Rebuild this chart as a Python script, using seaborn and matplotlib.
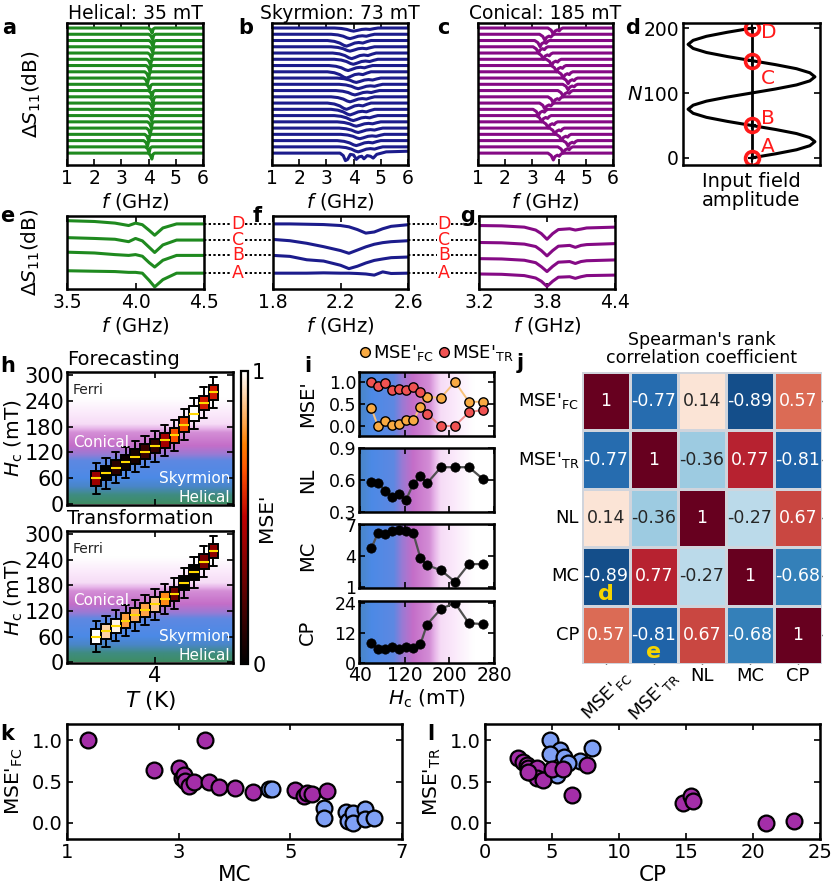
import numpy as np
import pandas as pd
import matplotlib
matplotlib.use("Agg")
import matplotlib.pyplot as plt
import seaborn as sns
from matplotlib.colors import LinearSegmentedColormap, Normalize
from matplotlib.cm import ScalarMappable
from matplotlib.lines import Line2D
from matplotlib.transforms import blended_transform_factory

# ======================= data =======================
# (a)-(c): dip centre (GHz) and depth of each stacked trace, top to bottom
dip_a = [4.13, 4.15, 4.16, 4.15, 4.11, 4.07, 4.05, 4.0, 3.96, 4.04, 4.13, 4.16, 4.15,
         4.13, 4.11, 4.1, 4.06, 4.0, 3.96, 4.02, 4.12]
depth_a = [0.8, 0.9, 0.95, 0.9, 0.85, 0.9, 0.95, 1.0, 0.9, 0.85, 0.9, 0.95, 0.9,
           0.9, 0.85, 0.9, 0.95, 1.0, 0.9, 0.9, 0.95]
dip_b = [4.0, 3.87, 3.74, 3.87, 3.93, 3.99, 3.8, 3.74, 4.1, 4.17, 4.05, 3.87, 3.74,
         3.87, 3.99, 4.1, 4.17, 4.23, 4.1, 4.17]
depth_b = [0.5, 0.7, 0.9, 0.7, 0.9, 0.8, 0.8, 1.0, 0.7, 0.7, 0.7, 0.8, 1.0,
           0.9, 0.8, 0.7, 0.7, 0.7, 0.8, 0.8]
b_last_f = [1.0, 3.5, 3.62, 3.7, 3.78, 3.88, 4.0, 4.1, 4.2, 4.3, 4.38, 4.5, 4.62, 4.72, 4.85, 5.2, 6.0]
b_last_dy = [0.0, 0.0, -0.4, -1.2, -1.0, -0.2, -0.3, -1.0, -0.6, -0.5, -0.9, -0.4, -0.5, -0.8, -0.2, 0.2, 0.3]
dip_c = [3.79, 3.48, 3.3, 3.24, 3.42, 3.73, 3.91, 4.16, 4.34, 4.34, 4.16, 3.79, 3.48,
         3.24, 3.36, 3.6, 3.85, 4.1, 4.34, 4.16, 3.79]
depth_c = [1.0, 1.0, 1.0, 1.0, 1.0, 1.0, 1.0, 1.0, 0.9, 0.9, 1.0, 1.0, 1.0,
           1.0, 1.0, 1.0, 1.0, 1.0, 0.9, 1.0, 1.1]
# dip line-shapes (offset from centre, relative depth)
shape_a_df = [-9.0, -0.14, -0.06, 0.0, 0.04, 0.1, 9.0]
shape_a_dy = [0.0, 0.0, -0.3, -1.0, -0.2, 0.0, 0.0]
shape_b_df = [-9.0, -0.7, -0.45, -0.25, -0.1, 0.0, 0.12, 0.3, 0.45, 0.6, 0.75, 0.9, 9.0]
shape_b_dy = [0.0, 0.0, -0.15, -0.45, -0.85, -1.0, -0.8, -0.45, -0.35, -0.45, -0.2, 0.0, 0.0]
shape_c_df = [-9.0, -0.2, -0.08, 0.0, 0.06, 0.15, 0.22, 0.28, 0.35, 9.0]
shape_c_dy = [0.0, 0.0, -0.35, -1.0, -0.5, -0.3, -0.45, -0.15, 0.0, 0.0]

# (d) input field
d_N = [0, 6.25, 12.5, 18.75, 25, 31.25, 37.5, 43.75, 50, 56.25, 62.5, 68.75, 75, 81.25, 87.5, 93.75,
       100, 106.25, 112.5, 118.75, 125, 131.25, 137.5, 143.75, 150, 156.25, 162.5, 168.75, 175,
       181.25, 187.5, 193.75, 200]
d_amp = [0, 0.38, 0.71, 0.92, 1, 0.92, 0.71, 0.38, 0, -0.38, -0.71, -0.92, -1, -0.92, -0.71, -0.38,
         0, 0.38, 0.71, 0.92, 1, 0.92, 0.71, 0.38, 0, -0.38, -0.71, -0.92, -1, -0.92, -0.71, -0.38, 0]
d_mark_N = [0, 50, 150, 200]
d_mark_lab = ["A", "B", "C", "D"]
d_lab_N = [17, 61, 123, 193]

# (e)-(g) selected traces A-D
e_f = [3.5, 3.7, 3.85, 3.95, 4.0, 4.05, 4.1, 4.14, 4.2, 4.3, 4.5]
e_tr = {"D": [0.2, 0.15, 0.05, -0.1, 0.05, -0.05, -0.4, -0.7, -0.25, 0.0, 0.0],
        "C": [0.15, 0.1, 0.05, -0.1, 0.1, -0.05, -0.45, -0.77, -0.3, 0.0, 0.0],
        "B": [0.2, 0.15, 0.05, 0.0, 0.05, -0.05, -0.45, -0.72, -0.3, 0.0, 0.0],
        "A": [0.15, 0.12, 0.1, 0.05, 0.05, 0.0, -0.45, -0.85, -0.4, 0.0, 0.0]}
f_f = [1.8, 1.9, 2.0, 2.1, 2.2, 2.25, 2.3, 2.35, 2.4, 2.45, 2.5, 2.6]
f_tr = {"D": [0.0, 0.0, -0.02, -0.04, -0.1, -0.18, -0.35, -0.57, -0.5, -0.3, -0.15, -0.05],
        "C": [0.04, -0.04, -0.2, -0.41, -0.65, -0.82, -0.62, -0.42, -0.26, -0.16, -0.1, -0.04],
        "B": [0.0, -0.06, -0.27, -0.35, -0.61, -0.82, -0.67, -0.47, -0.31, -0.22, -0.14, -0.1],
        "A": [0.0, 0.0, 0.0, 0.02, 0.0, 0.0, -0.02, -0.05, -0.12, 0.08, -0.02, 0.0]}
g_f = [3.2, 3.4, 3.6, 3.7, 3.75, 3.8, 3.85, 3.9, 4.0, 4.05, 4.1, 4.15, 4.4]
g_tr = {"D": [-0.1, -0.12, -0.2, -0.38, -0.6, -0.95, -0.6, -0.35, -0.3, -0.38, -0.32, -0.25, -0.2],
        "C": [-0.15, -0.17, -0.25, -0.4, -0.65, -0.98, -0.65, -0.38, -0.33, -0.45, -0.33, -0.28, -0.22],
        "B": [-0.2, -0.22, -0.3, -0.45, -0.7, -1.0, -0.68, -0.42, -0.38, -0.5, -0.38, -0.33, -0.28],
        "A": [-0.05, -0.07, -0.15, -0.3, -0.5, -0.82, -0.5, -0.25, -0.22, -0.32, -0.22, -0.15, -0.12]}
trace_level = {"A": 0.0, "B": 1.1, "C": 2.05, "D": 3.05}

# (h)/(i) per field
Hc = [60, 72, 85, 97, 110, 122, 135, 148, 160, 185, 210, 235, 260]
T_K = [3.4, 3.5, 3.6, 3.7, 3.8, 3.9, 4.0, 4.1, 4.2, 4.3, 4.4, 4.5, 4.6]
box_half = 17
whisker_half = 36
mse_fc = [0.41, 0.0, 0.11, 0.03, 0.06, 0.15, 0.13, 0.43, 0.66, 0.64, 1.0, 0.55, 0.55]
mse_tr = [1.0, 0.91, 0.98, 0.81, 0.84, 0.82, 0.89, 0.77, 0.28, 0.0, 0.01, 0.31, 0.37]
nl = [0.58, 0.57, 0.50, 0.44, 0.47, 0.41, 0.56, 0.64, 0.57, 0.72, 0.72, 0.72, 0.61]
mc = [4.7, 6.2, 6.1, 6.4, 6.5, 6.4, 6.2, 3.8, 3.1, 2.6, 1.5, 3.2, 3.2]
cp = [8.2, 5.5, 5.8, 6.6, 5.5, 6.4, 5.9, 7.5, 15.4, 21.7, 24.0, 15.9, 15.6]

# magnetic phase background (field in mT -> colour)
phase_H = [0, 20, 40, 60, 100, 115, 135, 165, 175, 185, 210, 245, 310]
phase_col = ["#3e8c64", "#3f8c80", "#4a86c8", "#4c8ae6", "#5e88e2", "#9a7ad4", "#c46ec8",
             "#d48ed6", "#e8b8ea", "#f6dcf6", "#fbeafb", "#ffffff", "#ffffff"]

# (j) Spearman correlation
corr_names = ["MSE'$_{\\rm FC}$", "MSE'$_{\\rm TR}$", "NL", "MC", "CP"]
corr = [[1, -0.77, 0.14, -0.89, 0.57],
        [-0.77, 1, -0.36, 0.77, -0.81],
        [0.14, -0.36, 1, -0.27, 0.67],
        [-0.89, 0.77, -0.27, 1, -0.68],
        [0.57, -0.81, 0.67, -0.68, 1]]

# (k)/(l) scatter
k_pur_mc = [1.37, 3.48, 2.55, 3.01, 3.06, 3.09, 3.12, 3.18, 3.27, 3.55, 3.72, 4.01, 4.34, 5.09, 5.24, 5.30, 5.39, 5.66]
k_pur_fc = [1.0, 1.0, 0.64, 0.67, 0.54, 0.58, 0.51, 0.44, 0.49, 0.49, 0.43, 0.42, 0.37, 0.40, 0.32, 0.36, 0.35, 0.38]
k_blu_mc = [4.61, 4.67, 5.60, 5.60, 5.99, 6.04, 6.13, 6.13, 6.34, 6.34, 6.49]
k_blu_fc = [0.41, 0.41, 0.18, 0.06, 0.13, 0.02, 0.12, 0.0, 0.17, 0.04, 0.06]
l_pur_cp = [2.49, 2.86, 3.11, 3.23, 3.48, 3.86, 3.86, 4.35, 4.98, 5.85, 7.59, 6.47, 14.8, 15.4, 15.5, 20.97, 23.06, 3.2]
l_pur_tr = [0.79, 0.74, 0.70, 0.66, 0.60, 0.66, 0.54, 0.52, 0.65, 0.65, 0.70, 0.33, 0.24, 0.32, 0.26, 0.0, 0.02, 0.62]
l_blu_cp = [4.85, 5.6, 4.85, 5.9, 7.09, 7.99, 5.35, 6.2]
l_blu_tr = [1.0, 0.88, 0.83, 0.80, 0.75, 0.91, 0.58, 0.72]

# ======================= style =======================
sns.set_theme(style="ticks")
plt.rcParams.update({
    "font.family": ["DejaVu Sans"],
    "mathtext.fontset": "dejavusans",
    "font.size": 13,
    "axes.linewidth": 1.8,
    "axes.edgecolor": "black",
    "axes.labelcolor": "black",
    "text.color": "black",
    "xtick.color": "black", "ytick.color": "black",
    "xtick.direction": "in", "ytick.direction": "in",
    "xtick.top": True, "ytick.right": True,
    "xtick.major.size": 4, "ytick.major.size": 4,
    "xtick.major.width": 1.2, "ytick.major.width": 1.2,
    "xtick.labelsize": 13.5, "ytick.labelsize": 13.5,
    "axes.labelsize": 14,
    "xtick.major.pad": 3, "ytick.major.pad": 3,
    "axes.labelpad": 2,
})

W, H = 831, 886
fig = plt.figure(figsize=(W / 100, H / 100), dpi=100)


def add_ax(x0, x1, y0, y1):
    return fig.add_axes([x0 / W, 1 - y1 / H, (x1 - x0) / W, (y1 - y0) / H])


def ftxt(x, y, s, **kw):
    fig.text(x / W, 1 - y / H, s, **kw)


def letter(x, y, s):
    ftxt(x, y, s, fontsize=15, fontweight="bold", ha="left", va="center")


GREEN, NAVY, PURPLE = "#1f8a1f", "#1c1c8c", "#850a85"
YLAB_S = "$\\Delta S_{11}$(dB)"
XLAB_F = "$f$ (GHz)"


def stack_frame(centers, depths, sdf, sdy, n):
    rows = []
    for k, (c, d) in enumerate(zip(centers, depths)):
        for dx, dy in zip(sdf, sdy):
            rows.append((k, c + dx, (n - 1 - k) + d * dy))
    return pd.DataFrame(rows, columns=["trace", "f", "y"])


# ---------------- (a)-(c) ----------------
n_tr = 21
specs = [((67, 203), dip_a, depth_a, shape_a_df, shape_a_dy, GREEN, "Helical: 35 mT"),
         ((272, 408), dip_b, depth_b, shape_b_df, shape_b_dy, NAVY, "Skyrmion: 73 mT"),
         ((478, 613), dip_c, depth_c, shape_c_df, shape_c_dy, PURPLE, "Conical: 185 mT")]
for (x0, x1), cen, dep, sdf, sdy, col, title in specs:
    ax = add_ax(x0, x1, 23, 165)
    df = stack_frame(cen, dep, sdf, sdy, n_tr)
    sns.lineplot(data=df, x="f", y="y", units="trace", estimator=None, sort=False,
                 color=col, lw=2.2, ax=ax)
    if col == NAVY:
        sns.lineplot(x=b_last_f, y=b_last_dy, sort=False, estimator=None,
                     color=col, lw=2.2, ax=ax)
    ax.set_xlim(1, 6)
    ax.set_ylim(-1.9, 20.8)
    ax.set_xticks([1, 2, 3, 4, 5, 6])
    ax.set_yticks([])
    ax.set_xlabel(XLAB_F)
    ax.set_ylabel(YLAB_S if col == GREEN else "", fontsize=14.5)
    ax.set_title(title, fontsize=13.5, pad=3)
    ax.yaxis.set_label_coords(-0.18, 0.5)

# ---------------- (d) ----------------
axd = add_ax(683, 820, 23, 165)
sns.lineplot(x=d_amp, y=d_N, sort=False, estimator=None, color="black", lw=2.2, ax=axd)
axd.plot([0, 0], [0, 200], color="black", lw=2.0)
axd.plot([0] * 4, d_mark_N, "o", ms=10, mfc="none", mec="#ff1a1a", mew=2.6)
axd.plot([0] * 4, d_mark_N, "+", ms=6, color="black", mew=1.5)
for nn, lab in zip(d_lab_N, d_mark_lab):
    axd.text(0.15, nn, lab, color="#ff1a1a", fontsize=14.5, ha="left", va="center")
axd.set_xlim(-1.08, 1.08)
axd.set_ylim(-11, 208)
axd.set_xticks([0])
axd.set_xticklabels([""])
axd.set_yticks([0, 100, 200])
axd.set_xlabel("Input field\namplitude", linespacing=1.0, fontsize=14)
axd.set_ylabel("$N$", rotation=0, va="center", ha="right", fontsize=14)
axd.yaxis.set_label_coords(-0.29, 0.5)

# ---------------- (e)-(g) ----------------
eg = [((67, 204), e_f, e_tr, GREEN, [3.5, 4.0, 4.5], (3.5, 4.5)),
      ((273, 408), f_f, f_tr, NAVY, [1.8, 2.2, 2.6], (1.8, 2.6)),
      ((479, 615), g_f, g_tr, PURPLE, [3.2, 3.8, 4.4], (3.2, 4.4))]
eg_axes = []
for (x0, x1), fx, tr, col, ticks, lim in eg:
    ax = add_ax(x0, x1, 216, 289)
    for lab in ["A", "B", "C", "D"]:
        sns.lineplot(x=fx, y=[trace_level[lab] + v for v in tr[lab]], sort=False,
                     estimator=None, color=col, lw=2.2, ax=ax)
    ax.set_xlim(*lim)
    ax.set_ylim(-0.98, 3.54)
    ax.set_xticks(ticks)
    ax.set_xticklabels([f"{t:.1f}" for t in ticks])
    ax.set_yticks([])
    ax.set_xlabel(XLAB_F)
    ax.set_ylabel(YLAB_S if col == GREEN else "", fontsize=14.5)
    ax.yaxis.set_label_coords(-0.18, 0.5)
    eg_axes.append(ax)

for ax_ref, (xa, xb, xl) in zip([eg_axes[0], eg_axes[1]], [(204, 273, 238), (408, 479, 444)]):
    tr_bl = blended_transform_factory(fig.transFigure, ax_ref.transData)
    for lab in ["A", "B", "C", "D"]:
        yv = trace_level[lab]
        fig.add_artist(Line2D([xa / W, (xl - 7) / W], [yv, yv], transform=tr_bl,
                              color="black", lw=1.4, ls=(0, (1.2, 1.2))))
        fig.add_artist(Line2D([(xl + 7) / W, xb / W], [yv, yv], transform=tr_bl,
                              color="black", lw=1.4, ls=(0, (1.2, 1.2))))
        fig.text(xl / W, yv, lab, transform=tr_bl, color="#ff1a1a", fontsize=12.5,
                 ha="center", va="center")

# ---------------- (h) ----------------
phase_cmap = LinearSegmentedColormap.from_list(
    "phase", [(h / phase_H[-1], c) for h, c in zip(phase_H, phase_col)])
heat = plt.get_cmap("gist_heat")
grad = np.linspace(0, phase_H[-1], 400)

for (y0, y1), vals, ttl in [((372, 505), mse_fc, "Forecasting"),
                            ((531, 663), mse_tr, "Transformation")]:
    ax = add_ax(67, 233, y0, y1)
    ax.imshow(grad[:, None], extent=[3.1, 4.8, 0, phase_H[-1]], origin="lower",
              aspect="auto", cmap=phase_cmap, norm=Normalize(0, phase_H[-1]), zorder=0)
    stats = [dict(med=m, q1=m - box_half, q3=m + box_half,
                  whislo=m - whisker_half, whishi=m + whisker_half) for m in Hc]
    bp = ax.bxp(stats, positions=T_K, widths=0.1, patch_artist=True, showfliers=False,
                manage_ticks=False, capwidths=0.075,
                boxprops=dict(edgecolor="black", lw=1.4),
                whiskerprops=dict(color="black", lw=1.4),
                capprops=dict(color="black", lw=1.4),
                medianprops=dict(color="#ffd800", lw=1.5))
    for patch, v in zip(bp["boxes"], vals):
        patch.set_facecolor(heat(v))
    ax.set_xlim(3.1, 4.8)
    ax.set_ylim(-2, 307)
    ax.set_yticks([0, 60, 120, 180, 240, 300])
    ax.set_xticks([4])
    ax.tick_params(labelsize=15, pad=2)
    ax.set_ylabel("$H_{\\rm c}$ (mT)", fontsize=14.5)
    ax.yaxis.set_label_coords(-0.255, 0.5)
    ax.text(3.16, 265, "Ferri", fontsize=10, color="#222222", va="center")
    ax.text(3.16, 144, "Conical", fontsize=11, color="white", va="center")
    ax.text(4.77, 60, "Skyrmion", fontsize=11, color="white", va="center", ha="right")
    ax.text(4.77, 16, "Helical", fontsize=11, color="white", va="center", ha="right")
    ax.text(0.0, 1.02, ttl, transform=ax.transAxes, fontsize=14, ha="left", va="bottom")
    if vals is mse_fc:
        ax.set_xticklabels([""])
    else:
        ax.set_xticklabels(["4"])
        ax.set_xlabel("$T$ (K)", fontsize=15.5)

cax = add_ax(241, 248, 371, 664)
cb = fig.colorbar(ScalarMappable(norm=Normalize(0, 1), cmap=heat), cax=cax)
cb.set_ticks([0, 1])
cb.set_ticklabels(["0", "1"])
cax.tick_params(length=0, labelsize=15, pad=3)
cb.outline.set_linewidth(1.6)
cb.set_label("MSE'", fontsize=14.5, labelpad=-6)

# ---------------- (i) ----------------
i_rows = [((372, 436), "MSE'", (-0.22, 1.22), [0.0, 0.5, 1.0], ["0.0", "0.5", "1.0"]),
          ((448, 512), "NL", (0.3, 0.9), [0.3, 0.6, 0.9], ["0.3", "0.6", "0.9"]),
          ((524, 588), "MC", (0.9, 7.05), [1, 4, 7], ["1", "4", "7"]),
          ((601, 663), "CP", (0, 24.8), [0, 12, 24], ["0", "12", "24"])]
i_data = {"NL": nl, "MC": mc, "CP": cp}
gradx = np.linspace(38, 280, 400)
for idx, ((y0, y1), name, ylim, yt, ytl) in enumerate(i_rows):
    ax = add_ax(359, 494, y0, y1)
    ax.imshow(gradx[None, :], extent=[38, 280, ylim[0], ylim[1]], origin="lower",
              aspect="auto", cmap=phase_cmap, norm=Normalize(0, phase_H[-1]), zorder=0)
    if name == "MSE'":
        ax.plot(Hc, mse_fc, color="#f8c27a", lw=1.4, zorder=2)
        ax.plot(Hc, mse_tr, color="#f08a8a", lw=1.4, zorder=2)
        sns.scatterplot(x=Hc, y=mse_fc, color="#f8aa42", edgecolor="black", linewidth=1.0,
                        s=45, zorder=3, ax=ax)
        sns.scatterplot(x=Hc, y=mse_tr, color="#f05252", edgecolor="black", linewidth=1.0,
                        s=45, zorder=3, ax=ax)
        hdl = [Line2D([], [], marker="o", ls="", ms=7, mfc="#f8aa42", mec="black", mew=1.0),
               Line2D([], [], marker="o", ls="", ms=7, mfc="#f05252", mec="black", mew=1.0)]
        ax.legend(hdl, ["MSE'$_{\\rm FC}$", "MSE'$_{\\rm TR}$"], loc="lower left",
                  bbox_to_anchor=(-0.1, 0.97), ncol=2, frameon=False, handletextpad=-0.1,
                  columnspacing=0.1, handlelength=1.0, borderpad=0.1, fontsize=13)
    else:
        yv = i_data[name]
        ax.plot(Hc, yv, color="#505050", lw=1.6, zorder=2)
        sns.scatterplot(x=Hc, y=yv, color="black", edgecolor="black", linewidth=0.5,
                        s=45, zorder=3, ax=ax)
    ax.set_xlim(38, 280)
    ax.set_ylim(*ylim)
    ax.set_yticks(yt)
    ax.set_yticklabels(ytl)
    ax.set_xticks([40, 120, 200, 280])
    ax.tick_params(labelsize=12.5, pad=2)
    if idx == 3:
        ax.set_xticklabels(["40", "120", "200", "280"])
        ax.set_xlabel("$H_{\\rm c}$ (mT)", fontsize=14.5)
        ax.tick_params(axis="x", labelsize=13.5)
    else:
        ax.set_xticklabels([])
    ax.set_ylabel(name, fontsize=14)
    ax.yaxis.set_label_coords(-0.31, 0.5)

# ---------------- (j) ----------------
axj = add_ax(582, 822, 372, 664)
cdf = pd.DataFrame(corr, index=corr_names, columns=corr_names)
sns.heatmap(cdf, ax=axj, cmap="RdBu_r", vmin=-1, vmax=1, annot=True, fmt="g", cbar=False,
            linewidths=0.8, linecolor="#d0d4dc", annot_kws={"size": 12.5})
axj.tick_params(direction="in", top=True, right=True, bottom=True, left=True, length=3,
                width=1.0, labelsize=13, pad=2)
axj.set_yticklabels(corr_names, rotation=0)
xl = axj.set_xticklabels(corr_names)
for t, rot in zip(xl, [45, 45, 0, 0, 0]):
    t.set_rotation(rot)
    t.set_ha("center")
    t.set_va("top")
axj.set_xlabel("")
axj.set_ylabel("")
for s in axj.spines.values():
    s.set_visible(False)
axj.text(0.5, 3.8, "d", color="#f5d400", fontsize=16, fontweight="bold", ha="center", va="center")
axj.text(1.5, 4.8, "e", color="#f5d400", fontsize=16, fontweight="bold", ha="center", va="center")
ftxt(702, 349, "Spearman's rank\ncorrelation coefficient", fontsize=12.5, ha="center",
     va="center", linespacing=1.05)

# ---------------- (k), (l) ----------------
PUR, BLU = "#a42ea8", "#7fa0f5"
axk = add_ax(67, 402, 724, 839)
sns.scatterplot(x=k_pur_mc, y=k_pur_fc, color=PUR, edgecolor="black", linewidth=1.6, s=130, ax=axk, zorder=3)
sns.scatterplot(x=k_blu_mc, y=k_blu_fc, color=BLU, edgecolor="black", linewidth=1.6, s=130, ax=axk, zorder=3)
axk.set_xlim(1, 7)
axk.set_xticks([1, 3, 5, 7])
axk.set_xlabel("MC")
axk.set_ylabel("MSE'$_{\\rm FC}$")

axl = add_ax(485, 820, 724, 839)
sns.scatterplot(x=l_blu_cp, y=l_blu_tr, color=BLU, edgecolor="black", linewidth=1.6, s=130, ax=axl, zorder=3)
sns.scatterplot(x=l_pur_cp, y=l_pur_tr, color=PUR, edgecolor="black", linewidth=1.6, s=130, ax=axl, zorder=3)
axl.set_xlim(0, 25)
axl.set_xticks([0, 5, 10, 15, 20, 25])
axl.set_xlabel("CP")
axl.set_ylabel("MSE'$_{\\rm TR}$")
for ax in (axk, axl):
    ax.set_ylim(-0.2, 1.2)
    ax.set_yticks([0.0, 0.5, 1.0])
    ax.set_yticklabels(["0.0", "0.5", "1.0"])
    ax.tick_params(labelsize=14)
    ax.xaxis.label.set_size(15.5)
    ax.yaxis.label.set_size(14.5)
axk.yaxis.set_label_coords(-0.125, 0.5)
axl.yaxis.set_label_coords(-0.125, 0.5)

# ---------------- panel letters ----------------
for (x, y, s) in [(2, 28, "a"), (238, 28, "b"), (437, 28, "c"), (625, 28, "d"),
                  (0, 216, "e"), (253, 216, "f"), (460, 216, "g"),
                  (0, 366, "h"), (304, 366, "i"), (517, 363, "j"),
                  (0, 734, "k"), (427, 734, "l")]:
    letter(x, y, s)

fig.savefig("out.png", dpi=100)
